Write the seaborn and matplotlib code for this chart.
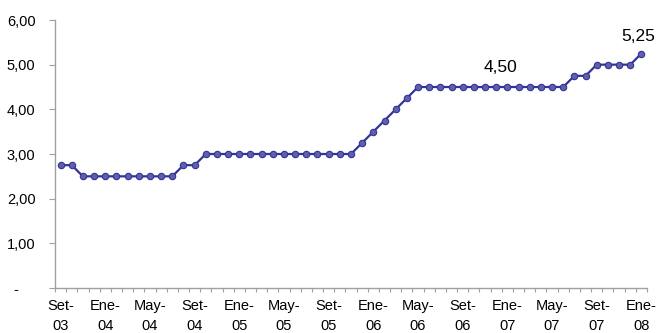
import matplotlib
matplotlib.use("Agg")
import matplotlib.pyplot as plt
import seaborn as sns
import pandas as pd
import numpy as np

# Monthly rate, Set-03 .. Ene-08
rate = [2.75, 2.75,
        2.50, 2.50, 2.50, 2.50, 2.50, 2.50, 2.50, 2.50, 2.50,
        2.75, 2.75,
        3.00, 3.00, 3.00, 3.00, 3.00, 3.00, 3.00, 3.00, 3.00, 3.00, 3.00, 3.00, 3.00, 3.00,
        3.25, 3.50, 3.75, 4.00, 4.25,
        4.50, 4.50, 4.50, 4.50, 4.50, 4.50, 4.50, 4.50, 4.50, 4.50, 4.50, 4.50, 4.50, 4.50,
        4.75, 4.75,
        5.00, 5.00, 5.00, 5.00,
        5.25]
tick_labels = ["Set-\n03", "Ene-\n04", "May-\n04", "Set-\n04", "Ene-\n05", "May-\n05",
               "Set-\n05", "Ene-\n06", "May-\n06", "Set-\n06", "Ene-\n07", "May-\n07",
               "Set-\n07", "Ene-\n08"]
y_ticks = [0, 1, 2, 3, 4, 5, 6]
y_labels = ["-    ", "1,00", "2,00", "3,00", "4,00", "5,00", "6,00"]
label_idx = [39, 52]
label_text = ["4,50", "5,25"]

sns.set_theme(style="white")
plt.rcParams["font.family"] = ["Liberation Sans", "DejaVu Sans"]

fig = plt.figure(figsize=(6.59, 3.33), dpi=100)
ax = fig.add_axes([55 / 659, 1 - 288 / 333, (647 - 55) / 659, (288 - 20) / 333])

df = pd.DataFrame({"mes": np.arange(len(rate)), "tasa": rate})
sns.lineplot(data=df, x="mes", y="tasa", ax=ax, color="#333399", linewidth=1.6,
             marker="o", markersize=4.6, markerfacecolor="#5F5FAA",
             markeredgecolor="#333399", markeredgewidth=0.8)

n = len(rate)
ax.set_xlim(-0.5, n - 0.5)
ax.set_ylim(0, 6)
ax.set_xlabel("")
ax.set_ylabel("")

ax.set_xticks(np.arange(0, n, 4))
ax.set_xticklabels(tick_labels, fontsize=10.5, linespacing=1.5)
ax.set_xticks(np.arange(-0.5, n, 1), minor=True)
ax.tick_params(axis="x", which="major", length=0, pad=8, colors="black")
ax.tick_params(axis="x", which="minor", bottom=True, length=3, width=0.8,
               color="#A0A0A0", direction="out")

ax.set_yticks(y_ticks)
ax.set_yticklabels(y_labels, fontsize=10.5)
ax.tick_params(axis="y", which="major", left=True, length=4, width=0.8,
               color="#A0A0A0", pad=10, labelcolor="black")

for s in ["top", "right"]:
    ax.spines[s].set_visible(False)
for s in ["left", "bottom"]:
    ax.spines[s].set_color("#A0A0A0")
    ax.spines[s].set_linewidth(1.0)

offsets = [(3, 14), (-2, 12)]
for i, t, off in zip(label_idx, label_text, offsets):
    ax.annotate(t, (i, rate[i]), xytext=off, textcoords="offset points",
                ha="center", va="center", fontsize=12.5, color="black",
                annotation_clip=False)

fig.savefig("out.png", dpi=100)
